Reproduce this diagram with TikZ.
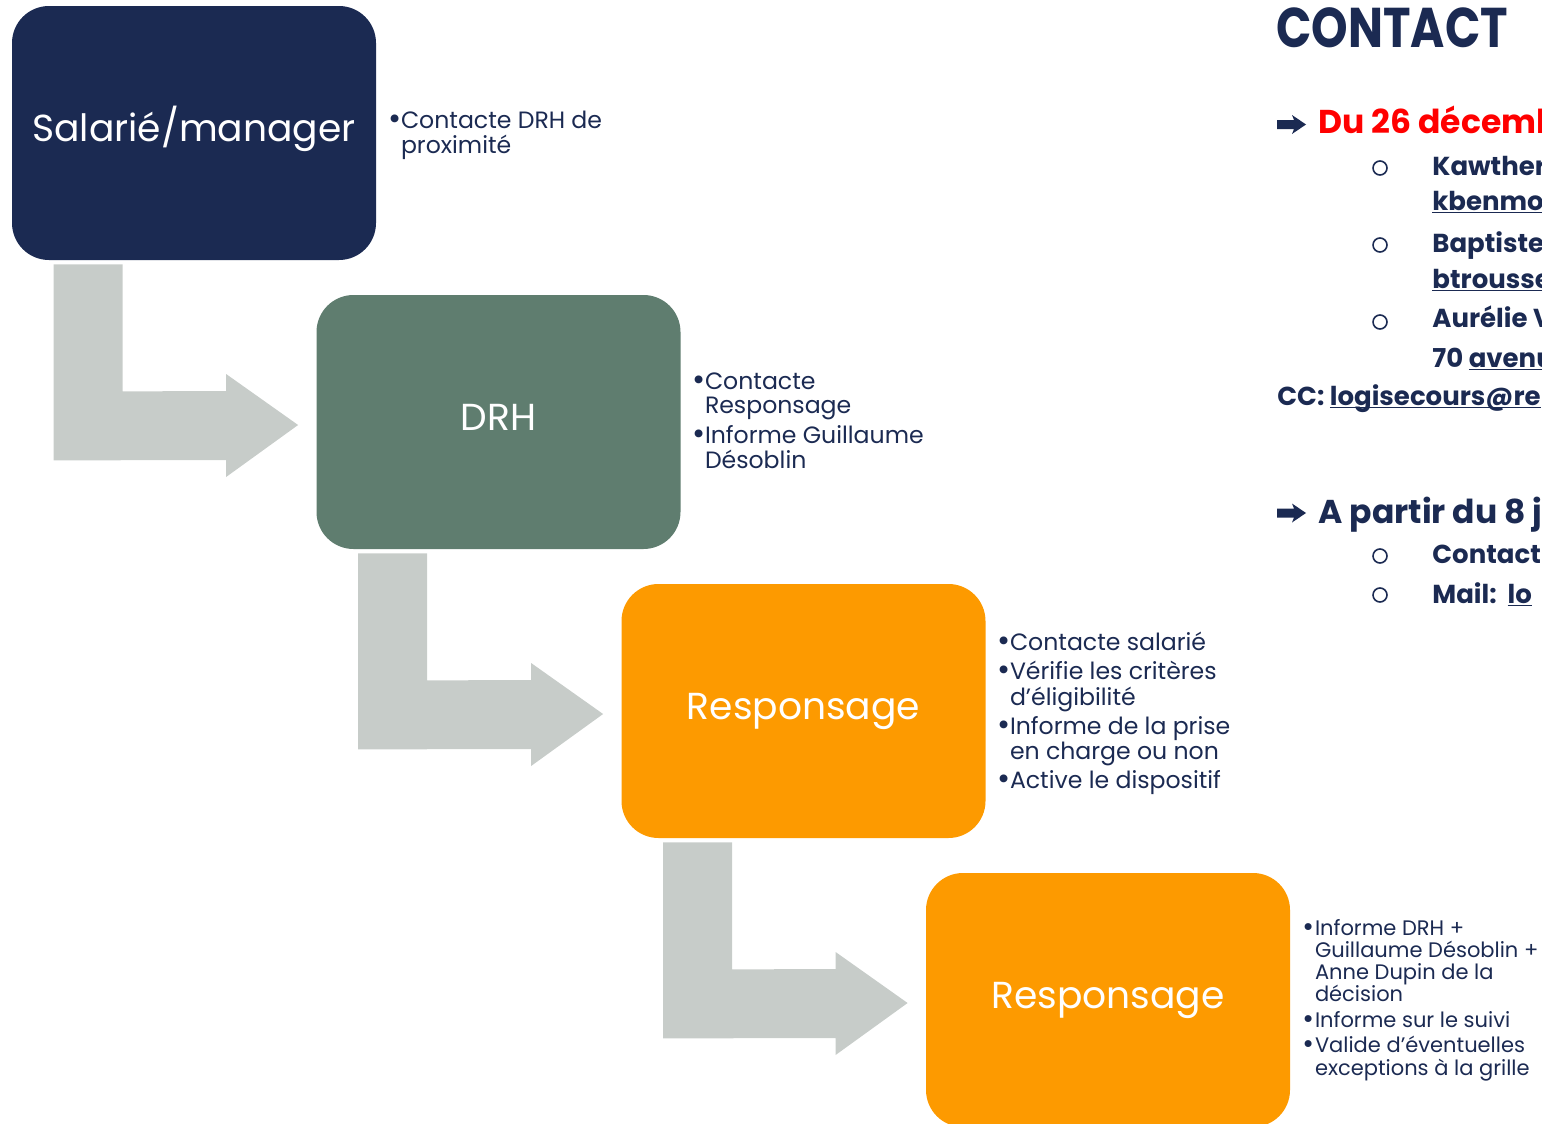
\documentclass[tikz,border=0pt]{standalone}
\usepackage{fontspec}
\setmainfont{Poppins}
\usetikzlibrary{calc}

\definecolor{navy}{HTML}{1B2A52}
\definecolor{sage}{HTML}{5F7D6F}
\definecolor{amber}{HTML}{FD9A00}
\definecolor{lightgrey}{HTML}{C7CCC9}
\definecolor{alertred}{HTML}{FF0000}

\newcommand{\bul}{\makebox[6.3pt][l]{\raisebox{-0.5pt}{\scalebox{1.35}{\textbullet}}}}
\newcommand{\ind}{\hspace*{6.3pt}}
\newcommand{\ul}[1]{\underline{\smash{#1}}}

\begin{document}
\begin{tikzpicture}[x=0.5pt,y=-0.5pt]
    \tikzset{
        stepbox/.style={rounded corners=18.5pt, minimum width=182pt,
            minimum height=127pt, inner sep=0pt, text=white,
            text height=10pt, text depth=1.5pt,
            font=\fontsize{18.8}{20}\selectfont},
        bullets/.style={anchor=base west, inner sep=0pt, text=navy,
            font=\fontsize{11.8}{12}\selectfont},
        contactline/.style={anchor=base west, inner sep=0pt, text=navy,
            font=\bfseries\fontsize{13}{15}\selectfont},
        period/.style={contactline, font=\bfseries\fontsize{16.5}{18}\selectfont},
        ring/.style={draw=navy, line width=0.8pt}
    }
    \useasboundingbox (0,0) rectangle (1542,1124);
    \begin{scope}
    \clip (0,0) rectangle (1542,1124);

    % The four steps
    \node[stepbox, fill=navy] (sal) at (194,133) {Salarié/manager};
    \node[stepbox, fill=sage] (drh) at (498.5,422) {DRH};
    \node[stepbox, fill=amber] (resp1) at (803.5,711) {Responsage};
    \node[stepbox, fill=amber] (resp2) at (1108,1000) {Responsage};

    % Bent arrows from one step to the next
    \foreach \a/\b in {sal/drh, drh/resp1, resp1/resp2}
        \fill[lightgrey] ($(\a.south west)+(42,4)$) -- ($(\a.south west)+(111,4)$)
            -- ($(\a.south west)+(111,131)$) -- ($(\b.west)+(-90,-31)$)
            -- ($(\b.west)+(-90,-48)$) -- ($(\b.west)+(-18,3)$)
            -- ($(\b.west)+(-90,55)$) -- ($(\b.west)+(-90,38)$)
            -- ($(\a.south west)+(42,200)$) -- cycle;

    % What each step does
    \node[bullets] (salnote) at (388,128) {\begin{tabular}[t]{@{}l@{}}
        \bul Contacte DRH de\\ \ind proximité\end{tabular}};
    \node[bullets] (drhnote) at (692,389) {\begin{tabular}[t]{@{}l@{}}
        \bul Contacte\\ \ind Responsage\\[2.5pt]
        \bul Informe Guillaume\\ \ind Désoblin\end{tabular}};
    \node[bullets] (respnote) at (997,650) {\begin{tabular}[t]{@{}l@{}}
        \bul Contacte salarié\\[2pt]
        \bul Vérifie les critères\\ \ind d’éligibilité\\[2pt]
        \bul Informe de la prise\\ \ind en charge ou non\\[2pt]
        \bul Active le dispositif\end{tabular}};
    \node[bullets, font=\fontsize{10.5}{11}\selectfont] (decnote) at (1302,935)
        {\def\arraystretch{0.917}\begin{tabular}[t]{@{}l@{}}
        \bul Informe DRH +\\ \ind Guillaume Désoblin +\\
        \ind Anne Dupin de la\\ \ind décision\\[1.5pt]
        \bul Informe sur le suivi\\[1.5pt]
        \bul Valide d’éventuelles\\ \ind exceptions à la grille\end{tabular}};

    % Contact
    \node[anchor=base west, inner sep=0pt, text=navy,
        font=\bfseries\fontsize{28}{30}\selectfont] (contact) at (1276,47)
        {\scalebox{0.83}[1]{CONTACT}};

    \fill[navy] (1277,120) -- (1294,120) -- (1292,115) -- (1306,124.5)
        -- (1292,134) -- (1294,129) -- (1277,129) -- cycle;
    \node[period, text=alertred] (perioda) at (1318,133) {Du 26 décembre};
    \draw[ring] (1380,168) circle (3.5pt);
    \node[contactline] (kawther) at (1432,175) {Kawther};
    \node[contactline] (kmail) at (1432,210) {\ul{kbenmo}};
    \draw[ring] (1380,245) circle (3.5pt);
    \node[contactline] (baptiste) at (1432,252) {Baptiste};
    \node[contactline] (bmail) at (1432,288) {\ul{btrousse}};
    \draw[ring] (1380,322) circle (3.5pt);
    \node[contactline] (aurelie) at (1432,327) {Aurélie V};
    \node[contactline] (adresse) at (1432,367) {70 \ul{avenue}};
    \node[contactline] (cc) at (1277,405) {CC: \ul{logisecours@re}};

    \fill[navy] (1277,508.5) -- (1294,508.5) -- (1292,503.5) -- (1306,513)
        -- (1292,522.5) -- (1294,517.5) -- (1277,517.5) -- cycle;
    \node[period] (periodb) at (1318,523) {A partir du 8 j};
    \draw[ring] (1380,556) circle (3.5pt);
    \node[contactline] (contactb) at (1432,563) {Contact};
    \draw[ring] (1380,595) circle (3.5pt);
    \node[contactline] (mail) at (1432,603) {Mail:\ \ \ul{lo}};
    \end{scope}
\end{tikzpicture}
\end{document}
